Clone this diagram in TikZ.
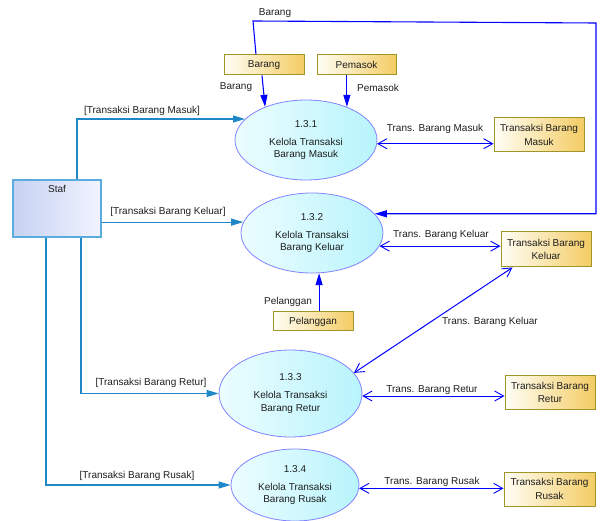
\documentclass[tikz,border=0pt]{standalone}
\usepackage{fontspec}
\setmainfont{Liberation Sans}
\usetikzlibrary{arrows.meta,shapes.geometric}

\definecolor{flowblue}{RGB}{0,0,255}
\definecolor{stafline}{RGB}{30,136,200}
\definecolor{procline}{RGB}{130,130,255}
\definecolor{procA}{RGB}{236,253,255}
\definecolor{procB}{RGB}{184,244,252}
\definecolor{storeline}{RGB}{160,150,40}
\definecolor{storeA}{RGB}{255,254,246}
\definecolor{storeB}{RGB}{244,204,100}
\definecolor{entline}{RGB}{90,172,224}
\definecolor{entA}{RGB}{198,210,242}
\definecolor{entB}{RGB}{242,244,255}
\definecolor{txt}{RGB}{30,30,30}

\tikzset{
  basefont/.style={font=\fontsize{10}{12.5}\selectfont, text=txt},
  process/.style={ellipse, draw=procline, line width=0.8pt,
    left color=procA, right color=procB,
    inner sep=0pt, align=center, basefont},
  store/.style={rectangle, draw=storeline, line width=1pt,
    left color=storeA, right color=storeB, inner sep=0pt, align=center,
    basefont, font=\fontsize{10}{13.5}\selectfont},
  entity/.style={rectangle, draw=entline, line width=1.3pt,
    left color=entA, right color=entB, inner sep=0pt},
  lbl/.style={basefont, inner sep=0pt},
  stafflow/.style={draw=stafline, line width=1.1pt,
    -{Triangle[length=12pt,width=7pt]}},
  dataflow/.style={draw=flowblue, line width=1.1pt,
    -{Triangle[length=12pt,width=7pt]}},
  twoway/.style={draw=flowblue, line width=1pt,
    {Straight Barb[length=9pt,width=10pt,line width=0.9pt]}-{Straight Barb[length=9pt,width=10pt,line width=0.9pt]}},
}

\begin{document}
\begin{tikzpicture}[x=1pt,y=-1pt]
\useasboundingbox (0,0) rectangle (600,521);

% processes
\node[process, minimum width=142pt, minimum height=80pt] (e1) at (306,140)
  {1.3.1\\[5.5pt]Kelola Transaksi\\Barang Masuk};
\node[process, minimum width=142pt, minimum height=80pt] (e2) at (312,233)
  {1.3.2\\[5.5pt]Kelola Transaksi\\Barang Keluar};
\node[process, minimum width=143pt, minimum height=87pt] (e3) at (290.5,393.5)
  {1.3.3\\[5.5pt]Kelola Transaksi\\Barang Retur};
\node[process, minimum width=128pt, minimum height=72pt] (e4) at (295,485)
  {1.3.4\\[5.5pt]Kelola Transaksi\\Barang Rusak};

% data stores
\node[store, minimum width=80pt, minimum height=20pt] (barang) at (264,65) {Barang};
\node[store, minimum width=79pt, minimum height=20pt] (pemasok) at (356.5,65) {Pemasok};
\node[store, minimum width=90pt, minimum height=34pt] (tbm) at (539,135) {Transaksi Barang\\Masuk};
\node[store, minimum width=90pt, minimum height=35pt] (tbk) at (546,249.5) {Transaksi Barang\\Keluar};
\node[store, minimum width=80pt, minimum height=19pt] (pel) at (313,321.5) {Pelanggan};
\node[store, minimum width=90pt, minimum height=33pt] (tbr) at (550,392.5) {Transaksi Barang\\Retur};
\node[store, minimum width=91pt, minimum height=34pt] (tbs) at (549.5,489) {Transaksi Barang\\Rusak};

% external entity
\node[entity, minimum width=88pt, minimum height=57pt] (staf) at (57,208.5) {};
\node[lbl] (stafT) at (57,189) {Staf};

% flows from Staf
\draw[stafflow] ([xshift=20pt]staf.north) |- (e1.161);
\draw[stafflow] (staf.east |- e2.171) -- (e2.171);
\draw[stafflow] ([xshift=24pt]staf.south) |- (e3.west);
\draw[stafflow] ([xshift=-11pt]staf.south) |- (e4.west);

\node[lbl] (l1) at (142,111) {[Transaksi Barang Masuk]};
\node[lbl] (l2) at (168,212) {[Transaksi Barang Keluar]};
\node[lbl] (l3) at (151,383) {[Transaksi Barang Retur]};
\node[lbl] (l4) at (137,476) {[Transaksi Barang Rusak]};

% inputs to 1.3.1
\draw[dataflow] ([xshift=-2pt]barang.south) -- (e1.141);
\draw[dataflow] (pemasok.south -| e1.39) -- (e1.39);
\node[lbl] (l5) at (236,87) {Barang};
\node[lbl] (l6) at (378,88) {Pemasok};

% Barang loop into 1.3.2
\coordinate (lp1) at (253,21);
\coordinate (lp2) at (596,23);
\draw[dataflow] ([xshift=-8pt]barang.north) -- (lp1) -- (lp2) |- (e2.17);
\node[lbl] (l7) at (275,13) {Barang};

% Pelanggan into 1.3.2
\draw[dataflow] (pel.north -| e2.280) -- (e2.280);
\node[lbl] (l8) at (288,302) {Pelanggan};

% two-way store flows
\draw[twoway] (e1.-3) -- (tbm.west |- e1.-3);
\node[lbl] (l9) at (435,129) {Trans. Barang Masuk};
\draw[twoway] (e2.-11) -- (tbk.west |- e2.-11);
\node[lbl] (l10) at (441,235) {Trans. Barang Keluar};
\draw[twoway] ([xshift=12pt]tbk.south west) -- (e3.18);
\node[lbl] (l11) at (490,322) {Trans. Barang Keluar};
\draw[twoway] (e3.-2) -- (tbr.west |- e3.-2);
\node[lbl] (l12) at (432,390) {Trans. Barang Retur};
\draw[twoway] (e4.-3) -- (tbs.west |- e4.-3);
\node[lbl] (l13) at (432,482) {Trans. Barang Rusak};
\end{tikzpicture}
\end{document}
